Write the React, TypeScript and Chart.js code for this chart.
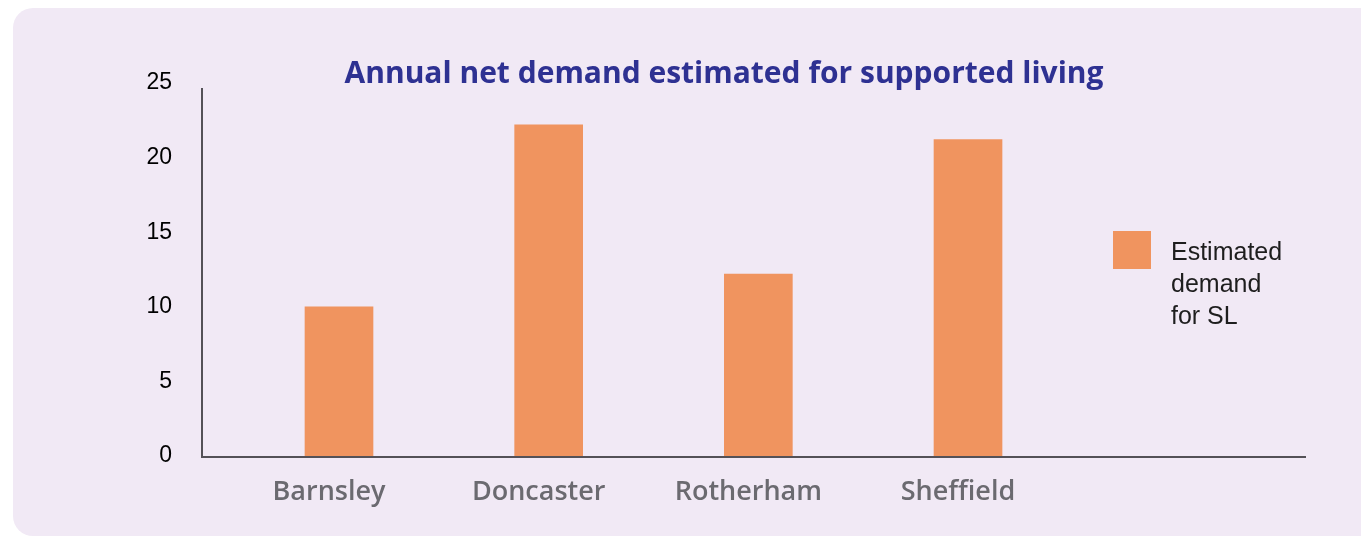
import React, { useEffect, useRef } from "react";
import { Chart, registerables } from "chart.js";

Chart.register(...registerables);

const categories = ["Barnsley", "Doncaster", "Rotherham", "Sheffield"];
const demandValues = [10, 22.2, 12.2, 21.2];
const yTicks = [0, 5, 10, 15, 20, 25];
const seriesLabel = "Estimated demand for SL";
const legendLines = ["Estimated", "demand", "for SL"];
const titleText = "Annual net demand estimated for supported living";

const BAR_COLOR = "#f0945f";
const AXIS_COLOR = "#545157";

const decorPlugin = {
  id: "decor",
  afterDraw(chart: any) {
    const { ctx, chartArea } = chart;
    const ca = chartArea;
    ctx.save();
    // axis lines
    ctx.strokeStyle = AXIS_COLOR;
    ctx.lineWidth = 2;
    ctx.beginPath();
    ctx.moveTo(ca.left, ca.top + 5);
    ctx.lineTo(ca.left, ca.bottom + 1);
    ctx.moveTo(ca.left - 1, ca.bottom + 1);
    ctx.lineTo(ca.right, ca.bottom + 1);
    ctx.stroke();
    // title
    ctx.fillStyle = "#2e3192";
    ctx.font = "bold 30px 'Open Sans'";
    ctx.textAlign = "center";
    ctx.textBaseline = "alphabetic";
    ctx.fillText(titleText, 724, 83);
    // legend
    const lx = ca.right - 193;
    const ly = 231;
    ctx.fillStyle = BAR_COLOR;
    ctx.fillRect(lx, ly, 38, 38);
    ctx.fillStyle = "#1e1e1e";
    ctx.font = "25px 'Liberation Sans'";
    ctx.textAlign = "left";
    legendLines.forEach((line, i) => {
      ctx.fillText(line, lx + 58, 260 + i * 32);
    });
    ctx.restore();
  },
};

export default function App() {
  const ref = useRef<HTMLCanvasElement | null>(null);
  useEffect(() => {
    if (!ref.current) return;
    const chart = new Chart(ref.current, {
      type: "bar",
      data: {
        datasets: [
          {
            label: seriesLabel,
            data: demandValues.map((v, i) => ({ x: i, y: v })),
            backgroundColor: BAR_COLOR,
            barThickness: 68,
          },
        ],
      },
      options: {
        responsive: false,
        animation: false,
        layout: { padding: { top: 83, right: 55, left: 0, bottom: 0 } },
        plugins: {
          legend: { display: false },
          tooltip: { enabled: false },
          title: { display: false },
        },
        scales: {
          x: {
            type: "linear",
            offset: false,
            min: -0.6534,
            max: 4.612,
            grid: { display: false, drawTicks: false },
            border: { display: false },
            afterBuildTicks: (scale: any) => {
              scale.ticks = categories.map((_, i) => ({ value: i }));
            },
            afterFit: (scale: any) => {
              scale.height = 80;
            },
            ticks: {
              autoSkip: false,
              maxRotation: 0,
              padding: 20,
              labelOffset: -10,
              color: "#6b6a70",
              font: { family: "'Open Sans'", size: 27, weight: "600" },
              callback: (v: any) => categories[v as number] ?? "",
            },
          },
          y: {
            min: 0,
            max: 25,
            grid: { display: false, drawTicks: false },
            border: { display: false },
            afterBuildTicks: (scale: any) => {
              scale.ticks = yTicks.map((v) => ({ value: v }));
            },
            afterFit: (scale: any) => {
              scale.width = 202;
            },
            ticks: {
              padding: 30,
              color: "#000000",
              font: { family: "'Liberation Sans'", size: 23 },
            },
          },
        },
      },
      plugins: [decorPlugin],
    });
    return () => chart.destroy();
  }, []);

  return (
    <div style={{ position: "absolute", left: 0, top: 0, width: 1361, height: 536, background: "#ffffff", overflow: "hidden" }}>
      <div
        style={{
          position: "absolute",
          left: 13,
          top: 8,
          width: 1368,
          height: 528,
          background: "#f1e9f5",
          borderRadius: 20,
        }}
      />
      <canvas ref={ref} width={1361} height={536} style={{ position: "absolute", left: 0, top: 0 }} />
    </div>
  );
}
